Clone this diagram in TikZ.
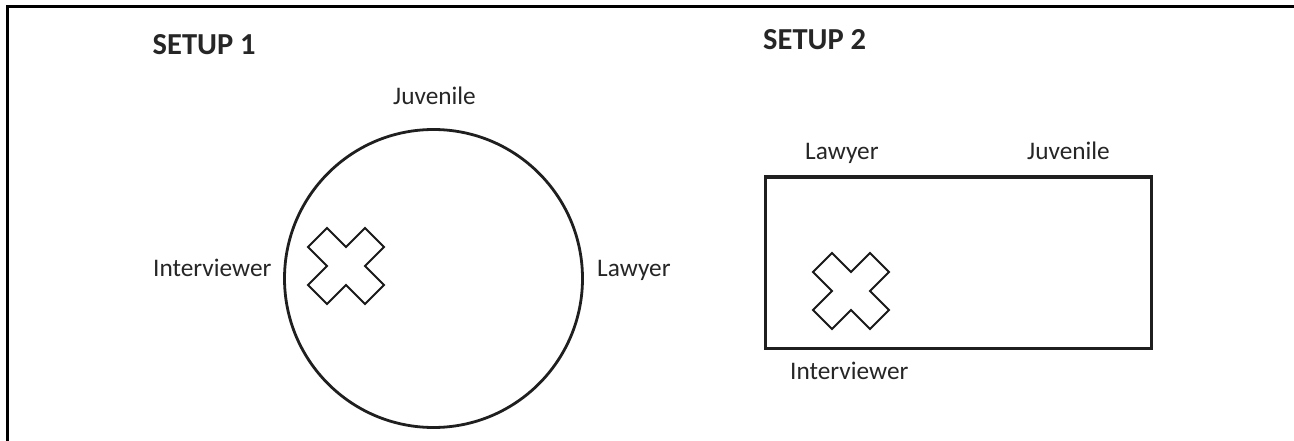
\documentclass[tikz,border=0pt]{standalone}
\usepackage{fontspec}
\setmainfont{Carlito}
\begin{document}
\begin{tikzpicture}[x=1pt,y=-1pt,
  lbl/.style={inner sep=0pt,anchor=base west,font=\fontsize{25.3}{28}\selectfont,text=black!85},
  ttl/.style={inner sep=0pt,anchor=base west,font=\fontsize{30.5}{34}\selectfont\bfseries,text=black!85},
  framel/.style={line width=3pt,black},
  shapel/.style={line width=2.8pt,black!88},
  xmark/.pic={\draw[line width=1.8pt,black!90,line join=miter]
     (0,-19)--(19,-38)--(38,-19)--(19,0)--(38,19)--(19,38)--(0,19)--(-19,38)--(-38,19)--(-19,0)--(-38,-19)--(-19,-38)--cycle;}
]
\useasboundingbox (0,0) rectangle (1294,441);
\fill[white] (0,0) rectangle (1294,441);
% frame
\coordinate (fb) at (7,441);
\coordinate (fc) at (7,7);
\coordinate (fr) at (1294,7);
\draw[framel] (fb) -- (fc) -- (fr);
% setup 1
\node[ttl] (s1) at (152.5,54.5) {SETUP 1};
\node[shapel,draw,circle,minimum size=298pt,inner sep=0pt] (circ) at (433.5,278.5) {};
\node[lbl,anchor=base] (j1) at (434.5,104.5) {Juvenile};
\node[lbl] (i1) at (153,276.7) {Interviewer};
\node[lbl] (l1) at (597,276.7) {Lawyer};
\pic at (346,266) {xmark};
% setup 2
\node[ttl] (s2) at (763,49.5) {SETUP 2};
\node[shapel,draw,line width=3.2pt,rectangle,inner sep=0pt,minimum width=386pt,minimum height=171pt,anchor=north west] (rect) at (764,175.5) {};
\node[lbl] (l2) at (805,159.5) {Lawyer};
\node[lbl] (j2) at (1027,159.5) {Juvenile};
\node[lbl] (i2) at (790,379.3) {Interviewer};
\pic at (851,291) {xmark};
\end{tikzpicture}
\end{document}
